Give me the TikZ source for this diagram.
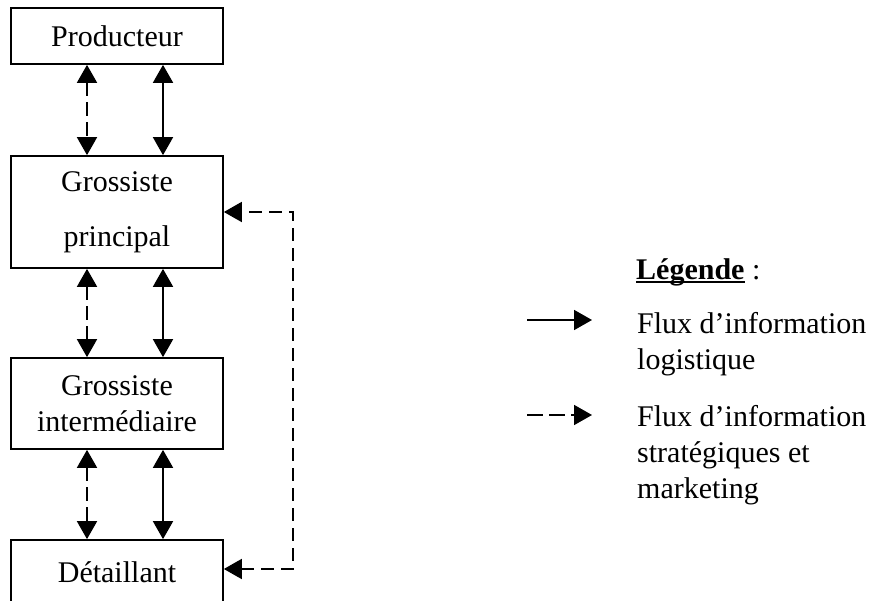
\documentclass[tikz,border=0pt]{standalone}
\usepackage{fontspec}
\setmainfont{Liberation Serif}
\usetikzlibrary{arrows.meta}
\newcommand\myul[1]{\setbox0\hbox{#1}\rlap{\rule[-4pt]{\wd0}{2.4pt}}\box0\relax}
\begin{document}
\begin{tikzpicture}[x=1pt,y=-1pt,
  box/.style={draw,line width=1.7pt,minimum width=212pt,inner sep=0pt,align=center,font=\fontsize{30}{36}\selectfont},
  flow/.style={line width=1.8pt,{Triangle[length=18pt,width=20pt]}-{Triangle[length=18pt,width=20pt]}},
  oneway/.style={line width=1.8pt,-{Triangle[length=18pt,width=20pt]}},
  dsh/.style={dash pattern=on 14pt off 6pt},
  dshl/.style={dash pattern=on 13pt off 7pt},
  lbl/.style={anchor=west,align=left,inner sep=0pt,font=\fontsize{30}{36}\selectfont}]
\useasboundingbox (0,0) rectangle (873,601);
\node[box,minimum height=56pt] (prod) at (117,36) {Producteur};
\node[box,minimum height=112pt] (gp) at (117,212) {Grossiste\\[19pt]principal};
\node[box,minimum height=91pt] (gi) at (117,403.5) {Grossiste\\intermédiaire};
\node[box,minimum height=64pt] (det) at (117,572) {Détaillant};
\coordinate (dx) at (87,0);
\coordinate (sx) at (163,0);
\draw[flow,dsh] (prod.south -| dx) -- (gp.north -| dx);
\draw[flow] (prod.south -| sx) -- (gp.north -| sx);
\draw[flow,dsh] (gp.south -| dx) -- (gi.north -| dx);
\draw[flow] (gp.south -| sx) -- (gi.north -| sx);
\draw[flow,dsh] (gi.south -| dx) -- (det.north -| dx);
\draw[flow] (gi.south -| sx) -- (det.north -| sx);
\coordinate (lb) at (293,569);
\coordinate (lt) at (293,212);
\draw[flow,dshl] (det.east |- lb) -- (lb) -- (lt) -- (gp.east |- lt);
\node[lbl] (leg) at (636,272) {\myul{\textbf{Légende}} :};
\coordinate (a1s) at (527,320);
\coordinate (a1e) at (592,320);
\coordinate (a2s) at (527,415);
\coordinate (a2e) at (592,415);
\draw[oneway] (a1s) -- (a1e);
\draw[oneway,dash pattern=on 16pt off 6pt] (a2s) -- (a2e);
\node[lbl] (t1) at (637,344) {Flux d’information\\logistique};
\node[lbl] (t2) at (637,455) {Flux d’information\\stratégiques et\\marketing};
\end{tikzpicture}
\end{document}
